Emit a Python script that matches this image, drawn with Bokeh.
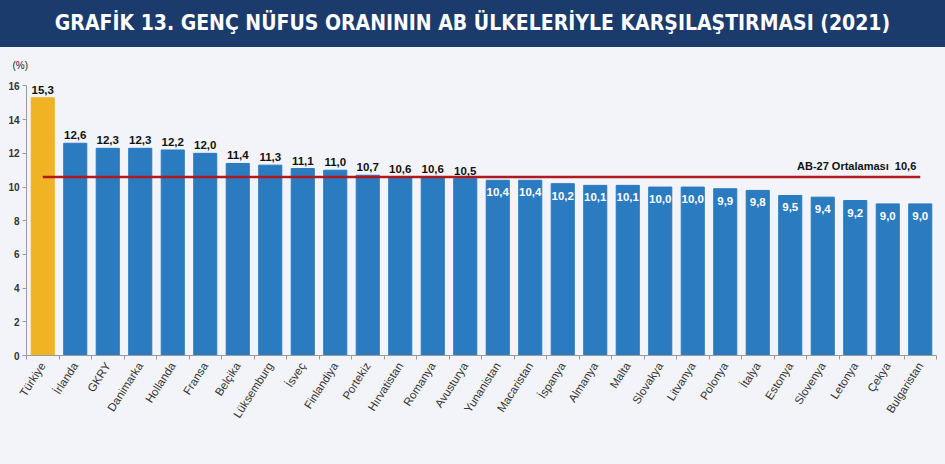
from bokeh.plotting import figure
from bokeh.models import (ColumnDataSource, Range1d, FixedTicker, Title, Div)
from bokeh.layouts import column
from bokeh.embed import file_html
from bokeh.resources import INLINE
from bokeh.core.properties import value

countries = ["Türkiye", "İrlanda", "GKRY", "Danimarka", "Hollanda", "Fransa", "Belçika",
             "Lüksemburg", "İsveç", "Finlandiya", "Portekiz", "Hırvatistan", "Romanya",
             "Avusturya", "Yunanistan", "Macaristan", "İspanya", "Almanya", "Malta",
             "Slovakya", "Litvanya", "Polonya", "İtalya", "Estonya", "Slovenya", "Letonya",
             "Çekya", "Bulgaristan"]
values = [15.3, 12.6, 12.3, 12.3, 12.2, 12.0, 11.4, 11.3, 11.1, 11.0, 10.7, 10.6, 10.6,
          10.5, 10.4, 10.4, 10.2, 10.1, 10.1, 10.0, 10.0, 9.9, 9.8, 9.5, 9.4, 9.2, 9.0, 9.0]
eu_avg = 10.6
avg_label = "AB-27 Ortalaması\u00a0\u00a010,6"
y_ticks = [0, 2, 4, 6, 8, 10, 12, 14, 16]
title_text = "GRAFİK 13. GENÇ NÜFUS ORANININ AB ÜLKELERİYLE KARŞILAŞTIRMASI (2021)"

BG = "#f3f4f9"
W = 945
n = len(countries)
xs = [i + 0.5 for i in range(n)]
colors = ["#f0b323" if c == "Türkiye" else "#2a7bbf" for c in countries]
labels = [f"{v:.1f}".replace(".", ",") for v in values]
is_above = [v >= eu_avg - 0.1 for v in values]

src = ColumnDataSource(dict(x=xs, top=values, color=colors, label=labels, name=countries))
above = ColumnDataSource(dict(x=[x for x, a in zip(xs, is_above) if a],
                              y=[v for v, a in zip(values, is_above) if a],
                              label=[l for l, a in zip(labels, is_above) if a]))
inside = ColumnDataSource(dict(x=[x for x, a in zip(xs, is_above) if not a],
                               y=[v for v, a in zip(values, is_above) if not a],
                               label=[l for l, a in zip(labels, is_above) if not a]))

title = Div(text=title_text, width=W, height=47,
            styles={"background-color": "#1c3b6d", "color": "white",
                    "font-family": "'DejaVu Sans Condensed', sans-serif",
                    "font-weight": "bold", "font-size": "21px", "text-align": "center",
                    "line-height": "47px", "width": f"{W}px", "height": "47px",
                    "margin": "0", "padding": "0", "white-space": "nowrap"})

p = figure(width=W, height=417, output_backend="svg", toolbar_location=None,
           x_range=Range1d(0, n), y_range=Range1d(0, 16.8),
           background_fill_color=BG, border_fill_color=BG, outline_line_color=None,
           min_border_top=25, min_border_bottom=109, min_border_left=26, min_border_right=9)
p.grid.visible = False

p.add_layout(Title(text="(%)", align="left", offset=-14, standoff=4,
                   text_font="Liberation Sans", text_font_size="10px",
                   text_font_style="normal", text_color="#222222"), "above")

p.vbar(x="x", top="top", width=0.71, bottom=0, color="color", source=src)

p.line(x=[xs[0], xs[-1]], y=[eu_avg, eu_avg], line_color="#b0191e", line_width=2.5)

p.text(x="x", y="y", text="label", source=above, text_align="center",
       text_baseline="bottom", y_offset=-4, text_font=value("Liberation Sans"),
       text_font_style="bold", text_font_size="11.5px", text_color="#111111")
p.text(x="x", y="y", text="label", source=inside, text_align="center",
       text_baseline="top", y_offset=8, text_font=value("Liberation Sans"),
       text_font_style="bold", text_font_size="11.5px", text_color="white")

p.text(x=[xs[-1]], y=[eu_avg], text=[avg_label], text_align="right", text_baseline="bottom",
       x_offset=-4, y_offset=-5, text_font=value("Liberation Sans"), text_font_style="bold",
       text_font_size="11px", text_color="#111111")

# x axis: labels at bar centres, tick marks between bars
xa = p.xaxis[0]
xa.ticker = FixedTicker(ticks=xs, minor_ticks=list(range(n + 1)))
xa.major_label_overrides = {x: c for x, c in zip(xs, countries)}
xa.major_label_orientation = 1.0
xa.major_tick_out = 0
xa.major_tick_in = 0
xa.minor_tick_out = 4
xa.minor_tick_in = 0
xa.minor_tick_line_color = "#9a9a9a"
xa.axis_line_color = "#9a9a9a"
xa.major_label_text_font = "Liberation Sans"
xa.major_label_text_font_size = "11.5px"
xa.major_label_text_color = "#333333"
xa.major_label_standoff = 4

ya = p.yaxis[0]
ya.ticker = FixedTicker(ticks=y_ticks)
ya.bounds = (0, 16)
ya.major_tick_out = 4
ya.major_tick_in = 0
ya.minor_tick_out = 0
ya.minor_tick_in = 0
ya.major_tick_line_color = "#9a9a9a"
ya.axis_line_color = "#9a9a9a"
ya.major_label_text_font = "Liberation Sans"
ya.major_label_text_font_size = "10px"
ya.major_label_text_font_style = "bold"
ya.major_label_text_color = "#333333"
ya.major_label_standoff = 3

layout = column(title, p, spacing=0, styles={"background-color": BG})
open("out.html", "w").write(file_html(layout, INLINE))
